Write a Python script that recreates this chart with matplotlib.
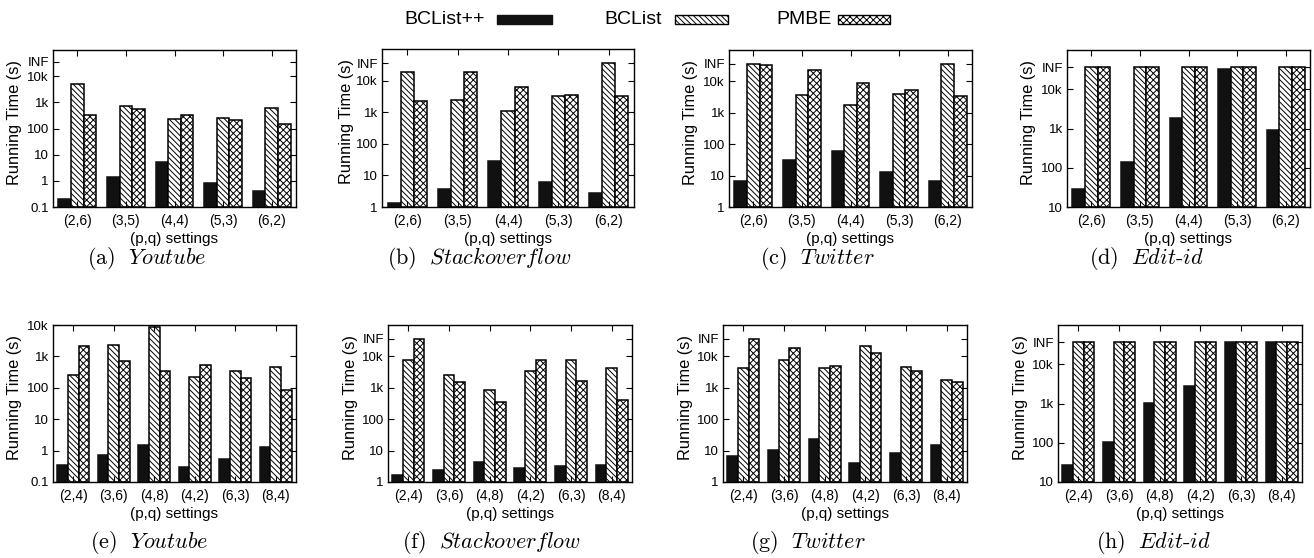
import matplotlib
matplotlib.use('Agg')
import matplotlib.pyplot as plt
from matplotlib.patches import Rectangle
from matplotlib.ticker import NullLocator


OUTPUT_FILE = 'out.png'
INF = 36000 #timeout value, drawn at the INF tick

SETTINGS_TOP = ['(2,6)', '(3,5)', '(4,4)', '(5,3)', '(6,2)']
SETTINGS_BOTTOM = ['(2,4)', '(3,6)', '(4,8)', '(4,2)', '(6,3)', '(8,4)']
ALGORITHMS = ['BCList++', 'BCList', 'PMBE']

#running times in seconds, one list per algorithm per panel
YOUTUBE_A_BCLISTPP = [0.2, 1.35, 5.2, 0.82, 0.41]
YOUTUBE_A_BCLIST = [4960, 720, 230, 252, 587]
YOUTUBE_A_PMBE = [327, 570, 327, 218, 149]

STACK_B_BCLISTPP = [1.37, 3.74, 29, 6.1, 2.72]
STACK_B_BCLIST = [19200, 2470, 1080, 3240, INF]
STACK_B_PMBE = [2300, 19200, 6260, 3480, 3320]

TWITTER_C_BCLISTPP = [6.5, 30.5, 62, 13.3, 6.5]
TWITTER_C_BCLIST = [INF, 3750, 1760, 4030, INF]
TWITTER_C_PMBE = [34000, 23400, 9000, 5150, 3320]

EDIT_D_BCLISTPP = [28.8, 141, 1800, 32100, 906]
EDIT_D_BCLIST = [INF, INF, INF, INF, INF]
EDIT_D_PMBE = [INF, INF, INF, INF, INF]

YOUTUBE_E_BCLISTPP = [0.35, 0.73, 1.52, 0.31, 0.56, 1.28]
YOUTUBE_E_BCLIST = [260, 2360, 8850, 224, 340, 468]
YOUTUBE_E_PMBE = [2190, 728, 340, 542, 199, 84]

STACK_F_BCLISTPP = [1.63, 2.42, 4.46, 2.8, 3.16, 3.57]
STACK_F_BCLIST = [7640, 2600, 822, 3490, 7450, 4140]
STACK_F_PMBE = [INF, 1480, 366, 7640, 1630, 424]

TWITTER_G_BCLISTPP = [6.76, 10.8, 23.6, 4.04, 8.4, 15.2]
TWITTER_G_BCLIST = [4350, 7450, 4350, 21400, 4680, 1710]
TWITTER_G_PMBE = [INF, 18000, 4800, 12500, 3320, 1480]

EDIT_H_BCLISTPP = [27.1, 105, 1052, 2850, INF, INF]
EDIT_H_BCLIST = [INF, INF, INF, INF, INF, INF]
EDIT_H_PMBE = [INF, INF, INF, INF, INF, INF]

#y axis ticks
YTICKS_01 = [0.1, 1, 10, 100, 1000, 10000, INF]
YLABELS_01 = ['0.1', '1', '10', '100', '1k', '10k', 'INF']
YTICKS_01_NOINF = [0.1, 1, 10, 100, 1000, 10000]
YLABELS_01_NOINF = ['0.1', '1', '10', '100', '1k', '10k']
YTICKS_1 = [1, 10, 100, 1000, 10000, INF]
YLABELS_1 = ['1', '10', '100', '1k', '10k', 'INF']
YTICKS_10 = [10, 100, 1000, 10000, INF]
YLABELS_10 = ['10', '100', '1k', '10k', 'INF']

#figure size in pixels, used to place things the way the reference does
FIG_W = 1314
FIG_H = 558

#bar look per algorithm
BAR_STYLES = [
    dict(facecolor='#111111', edgecolor='#111111', hatch=None),
    dict(facecolor='white', edgecolor='black', hatch='\\' * 6),
    dict(facecolor='white', edgecolor='black', hatch='xxxxx'),
]
BAR_WIDTH = 0.26

#legend layout in pixels: right end of text, left and right of the sample box
LEGEND_TEXT_END = [485, 662, 832]
LEGEND_BOX = [(497, 552), (675, 728), (838, 890)]
LEGEND_Y = 19


def px_box(left, right, top, bottom):
    #turn a pixel box into figure fractions
    return [left / FIG_W, 1 - bottom / FIG_H, (right - left) / FIG_W, (bottom - top) / FIG_H]

def plot_panel(fig, box, settings, series, ylim, yticks, ylabels, ylabel_px):
    ax = fig.add_axes(box)
    ax.set_yscale('log')

    for k, values in enumerate(series):
        xs = [i + (k - 1) * BAR_WIDTH for i in range(len(settings))]
        heights = [v - ylim[0] for v in values]
        ax.bar(xs, heights, BAR_WIDTH, bottom=ylim[0], linewidth=1.1, **BAR_STYLES[k])

    ax.set_xlim(-0.5, len(settings) - 0.5)
    ax.set_ylim(*ylim)
    ax.set_xticks(range(len(settings)))
    ax.set_xticklabels(settings, fontsize=10)
    ax.set_yticks(yticks)
    ax.set_yticklabels(ylabels, fontsize=9.5)
    ax.yaxis.set_minor_locator(NullLocator())
    ax.tick_params(direction='in', top=True, right=True, length=4, width=0.8)
    ax.tick_params(axis='x', pad=5)
    ax.tick_params(axis='y', pad=3)
    for spine in ax.spines.values():
        spine.set_linewidth(1.0)

    #axis labels placed by hand so the ylabel sits tight on the ticks like gnuplot does
    ax.set_xlabel('(p,q) settings', fontsize=11)
    ax.xaxis.set_label_coords(0.5, -0.16)
    ax.set_ylabel('Running Time (s)', fontsize=11.8)
    ax.yaxis.label.set_va('center')
    width_px = box[2] * FIG_W
    ax.yaxis.set_label_coords(-ylabel_px / width_px, 0.54)

def plot_legend(fig):
    #gnuplot style key: text first, sample box after it
    box_h = 9
    for k, name in enumerate(ALGORITHMS):
        fig.text(LEGEND_TEXT_END[k] / FIG_W, 1 - LEGEND_Y / FIG_H, name,
                 fontsize=14, ha='right', va='center')
        x0, x1 = LEGEND_BOX[k]
        rect = Rectangle((x0 / FIG_W, 1 - (LEGEND_Y + box_h / 2) / FIG_H),
                         (x1 - x0) / FIG_W, box_h / FIG_H, transform=fig.transFigure,
                         linewidth=1.0, **BAR_STYLES[k])
        fig.add_artist(rect)

def main():
    plt.rcParams['font.family'] = ['Liberation Sans', 'DejaVu Sans']
    plt.rcParams['mathtext.fontset'] = 'cm'
    plt.rcParams['hatch.linewidth'] = 0.7

    fig = plt.figure(figsize=(FIG_W / 100, FIG_H / 100), dpi=100)

    #letter, dataset, settings, series, ylim, ticks, labels, axes box, ylabel offset, caption x
    panels = [
        ('a', 'Youtube', SETTINGS_TOP, [YOUTUBE_A_BCLISTPP, YOUTUBE_A_BCLIST, YOUTUBE_A_PMBE],
         (0.1, 1e5), YTICKS_01, YLABELS_01, (53, 296, 50, 207), 38, 147),
        ('b', 'Stackoverflow', SETTINGS_TOP, [STACK_B_BCLISTPP, STACK_B_BCLIST, STACK_B_PMBE],
         (1, 1e5), YTICKS_1, YLABELS_1, (382, 634, 49, 207), 36, 479),
        ('c', 'Twitter', SETTINGS_TOP, [TWITTER_C_BCLISTPP, TWITTER_C_BCLIST, TWITTER_C_PMBE],
         (1, 1e5), YTICKS_1, YLABELS_1, (729, 972, 50, 207), 39, 817),
        ('d', 'Edit-id', SETTINGS_TOP, [EDIT_D_BCLISTPP, EDIT_D_BCLIST, EDIT_D_PMBE],
         (10, 1e5), YTICKS_10, YLABELS_10, (1067, 1310, 50, 207), 39, 1146),
        ('e', 'Youtube', SETTINGS_BOTTOM, [YOUTUBE_E_BCLISTPP, YOUTUBE_E_BCLIST, YOUTUBE_E_PMBE],
         (0.1, 1e4), YTICKS_01_NOINF, YLABELS_01_NOINF, (53, 296, 325, 482), 38, 149),
        ('f', 'Stackoverflow', SETTINGS_BOTTOM, [STACK_F_BCLISTPP, STACK_F_BCLIST, STACK_F_PMBE],
         (1, 1e5), YTICKS_1, YLABELS_1, (388, 632, 325, 482), 38, 491),
        ('g', 'Twitter', SETTINGS_BOTTOM, [TWITTER_G_BCLISTPP, TWITTER_G_BCLIST, TWITTER_G_PMBE],
         (1, 1e5), YTICKS_1, YLABELS_1, (723, 967, 325, 482), 38, 808),
        ('h', 'Edit-id', SETTINGS_BOTTOM, [EDIT_H_BCLISTPP, EDIT_H_BCLIST, EDIT_H_PMBE],
         (10, 1e5), YTICKS_10, YLABELS_10, (1058, 1302, 325, 482), 38, 1153),
    ]

    for letter, name, settings, series, ylim, yticks, ylabels, pbox, ylab_px, cap_x in panels:
        plot_panel(fig, px_box(*pbox), settings, series, ylim, yticks, ylabels, ylab_px)

        #sub caption in a latex-ish look, hyphen kept outside math so it stays a hyphen
        parts = name.split('-')
        caption = '(' + letter + r')$\ \ $' + '-'.join(r'$\mathit{' + p + '}$' for p in parts)
        cap_y = 258 if pbox[2] < 100 else 542
        fig.text(cap_x / FIG_W, 1 - cap_y / FIG_H, caption, family='cmr10',
                 fontsize=16, ha='center', va='center')

    plot_legend(fig)

    plt.savefig(OUTPUT_FILE, dpi=100)
    plt.close()

if __name__ == '__main__':
    main()
